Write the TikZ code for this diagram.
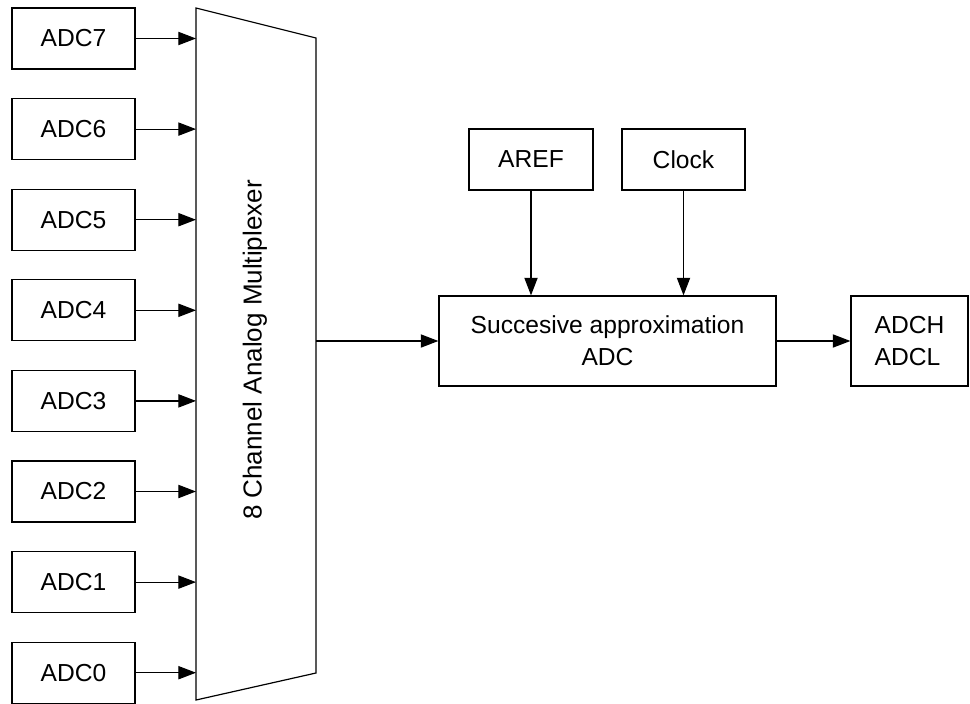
\documentclass[tikz,border=0pt]{standalone}
\usepackage{fontspec}
\setmainfont{Liberation Sans}
\usetikzlibrary{arrows.meta}

\tikzset{
  blk/.style={draw, line width=0.85pt, inner sep=0pt, font=\fontsize{17.5}{22.5}\selectfont},
  adcbox/.style={blk, minimum width=3.075cm, minimum height=1.525cm},
  sig/.style={line width=0.85pt, -{Triangle[length=0.44cm,width=0.33cm]}}
}

\begin{document}
\begin{tikzpicture}[x=0.025cm, y=-0.025cm]
      \useasboundingbox (0,0) rectangle (970,703);

      % multiplexer
      \coordinate (muxtl) at (196,8);
      \coordinate (muxtr) at (316,38);
      \coordinate (muxbr) at (316,673);
      \coordinate (muxbl) at (196,700);
      \draw[line width=0.85pt] (muxtl) -- (muxtr) -- (muxbr) -- (muxbl) -- cycle;
      \node[rotate=90, font=\fontsize{18.5}{22}\selectfont] (muxlabel) at (255,350) {8 Channel Analog Multiplexer};

      % inputs
      \foreach \k [evaluate=\k as \yy using {38.5+(7-\k)*90.6}] in {7,...,0} {
        \node[adcbox] (adc\k) at (73.5,\yy) {ADC\k};
        \draw[sig] (adc\k.east) -- (adc\k.east -| muxtl);
      }

      % converter
      \node[blk, minimum width=8.425cm, minimum height=2.25cm, align=center] (sar) at (607.5,341) {Succesive approximation\\ADC};
      \node[blk, minimum width=2.925cm, minimum height=2.25cm, align=left] (adcreg) at (909.5,341) {ADCH\\ADCL};
      \node[adcbox, minimum width=3.1cm] (aref) at (531,159.5) {AREF};
      \node[adcbox] (clock) at (683.5,159.5) {Clock};

      \coordinate (muxout) at (316,341);
      \draw[sig] (muxout) -- (sar.west);
      \draw[sig] (sar.east) -- (adcreg.west);
      \draw[sig] (aref.south) -- (aref.south |- sar.north);
      \draw[sig] (clock.south) -- (clock.south |- sar.north);
\end{tikzpicture}
\end{document}
